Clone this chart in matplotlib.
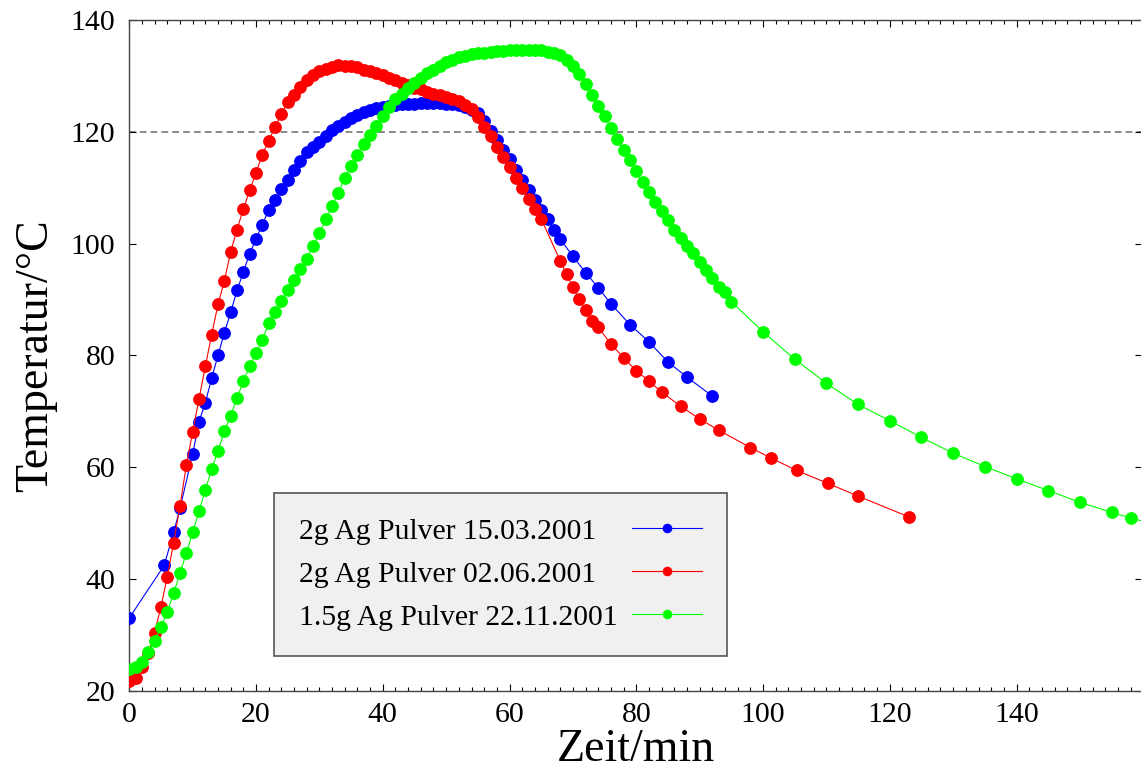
import numpy as np
import matplotlib
matplotlib.use("Agg")
import matplotlib.pyplot as plt
from matplotlib.ticker import MultipleLocator

plt.rcParams['font.family'] = 'serif'
plt.rcParams['font.serif'] = ['Liberation Serif', 'DejaVu Serif']

# Serie 1: 2g Ag Pulver 15.03.2001
blue_t = [0, 5.5, 7, 8, 10, 11] + list(range(12, 69)) + [70, 72, 74, 76, 79, 82, 85, 88, 92]
blue_T = [33.0, 42.4, 48.3, 52.6, 62.3, 68.1,
          71.5, 75.9, 80.0, 84.0, 87.7, 91.6, 94.9, 98.2, 100.8, 103.4,
          106.0, 107.8, 109.7, 111.3, 113.2, 114.7, 116.3, 117.3, 118.2, 119.2,
          120.3, 121.1, 121.8, 122.4, 123.0, 123.5, 123.9, 124.2, 124.4, 124.6,
          124.8, 124.9, 124.9, 125.0, 125.1, 125.1, 125.1, 125.1, 125.0, 124.9,
          124.7, 124.5, 123.9, 123.4, 122.0, 120.2, 118.5, 116.8, 115.1, 113.1,
          111.4, 109.6, 107.8, 106.0, 104.3, 102.5, 100.8,
          97.7, 94.8, 92.1, 89.2, 85.5, 82.4, 78.8, 76.1, 72.7]

# Serie 2: 2g Ag Pulver 02.06.2001
red_t = list(range(0, 66)) + [68, 69, 70, 71, 72, 73, 74, 76, 78, 80, 82, 84, 87, 90, 93,
                              98, 101.3, 105.3, 110.2, 115, 123]
red_T = [21.7, 22.2, 24.3, 26.8, 30.4, 35.0, 40.4, 46.5, 53.0, 60.3,
         66.3, 72.2, 78.0, 83.7, 89.1, 93.3, 98.5, 102.5, 106.2, 109.5,
         112.7, 115.9, 118.4, 120.8, 123.1, 125.4, 126.5, 128.0, 129.2, 130.1,
         130.8, 131.2, 131.6, 131.9, 131.8, 131.7, 131.5, 131.1, 130.8, 130.5,
         130.2, 129.7, 129.2, 128.7, 128.3, 127.9, 127.6, 127.1, 126.8, 126.5,
         126.2, 125.8, 125.5, 124.8, 124.0, 122.6, 120.9, 119.2, 117.3, 115.4,
         113.6, 111.7, 109.9, 107.9, 106.1, 104.4,
         96.9, 94.5, 92.2, 90.0, 88.1, 86.2, 85.0, 82.0, 79.6, 77.2, 75.4, 73.4,
         70.9, 68.6, 66.6, 63.5, 61.6, 59.4, 57.1, 54.8, 51.1]

# Serie 3: 1.5g Ag Pulver 22.11.2001
green_t = list(range(0, 96)) + [100, 105, 110, 115, 120, 125, 130, 135, 140, 145,
                                150, 155, 158, 162]
green_T = [23.8, 24.2, 25.2, 27.0, 28.9, 31.4, 34.1, 37.4, 41.0, 44.6,
           48.3, 52.1, 55.9, 59.6, 62.9, 66.4, 69.2, 72.3, 75.4, 78.0,
           80.5, 82.7, 85.7, 87.7, 89.7, 91.6, 93.4, 95.4, 97.3, 99.5,
           101.8, 104.3, 106.7, 109.1, 111.8, 113.8, 115.8, 117.8, 119.4, 121.1,
           122.9, 124.4, 125.8, 126.7, 127.9, 128.7, 129.7, 130.5, 131.1, 131.8,
           132.4, 132.9, 133.3, 133.6, 133.9, 134.0, 134.1, 134.3, 134.4, 134.4,
           134.6, 134.6, 134.6, 134.6, 134.6, 134.6, 134.3, 134.0, 133.8, 132.8,
           131.8, 130.3, 128.5, 126.6, 124.6, 122.8, 120.7, 118.7, 116.7, 114.9,
           112.9, 111.0, 109.3, 107.5, 105.9, 104.2, 102.5, 101.0, 99.5, 98.3,
           96.7, 95.2, 93.8, 92.2, 91.4, 89.6,
           84.2, 79.3, 75.0, 71.2, 68.3, 65.3, 62.5, 60.1, 57.9, 55.8,
           53.7, 51.9, 50.9, 49.7]

labels = ['2g Ag Pulver 15.03.2001', '2g Ag Pulver 02.06.2001', '1.5g Ag Pulver 22.11.2001']
colors = ['#0000ff', '#ff0000', '#00ff00']

fig = plt.figure(figsize=(11.41, 7.82), dpi=100)
ax = fig.add_axes([0.1133, 0.1168, 0.8876, 0.8577])

ax.axhline(120, color='#777777', lw=1.2, ls=(0, (4, 2.5)), zorder=1)

for t, T, c, lab in zip([blue_t, red_t, green_t], [blue_T, red_T, green_T], colors, labels):
    ax.plot(t, T, '-o', color=c, lw=0.8, ms=8.2, mec=c, label=lab, zorder=3)

ax.set_xlim(0, 159.8)
ax.set_ylim(20, 140)
ax.xaxis.set_major_locator(MultipleLocator(20))
ax.xaxis.set_minor_locator(MultipleLocator(2))
ax.yaxis.set_major_locator(MultipleLocator(20))
ax.tick_params(which='both', direction='in', top=True, right=True, labelsize=21.5)
ax.tick_params(axis='x', which='major', length=5, width=0.8, pad=8.5)
ax.tick_params(axis='x', which='minor', length=3, width=0.8)
ax.tick_params(axis='y', which='major', length=5, width=0.8, pad=10)
for s in ax.spines.values():
    s.set_color('#444444')
    s.set_linewidth(1.0)

ax.set_xlabel('Zeit/min', fontsize=33, labelpad=0)
ax.set_ylabel('Temperatur/°C', fontsize=33, labelpad=10)

leg = ax.legend(loc='upper left', bbox_to_anchor=(0.143, 0.2948), borderaxespad=0,
                fontsize=21.3, markerfirst=False, handlelength=2.37, handletextpad=0.6,
                labelspacing=0.55, borderpad=0.85, markerscale=0.72,
                fancybox=False, framealpha=1, facecolor='#f0f0f0', edgecolor='#555555')
leg.get_frame().set_linewidth(1.2)

# texts left aligned, handles right aligned (like the original legend)
for col in leg._legend_handle_box.get_children():
    for entry in col.get_children():
        entry.mode = 'expand'
        entry.width = 403

fig.savefig('out.png', dpi=100)
